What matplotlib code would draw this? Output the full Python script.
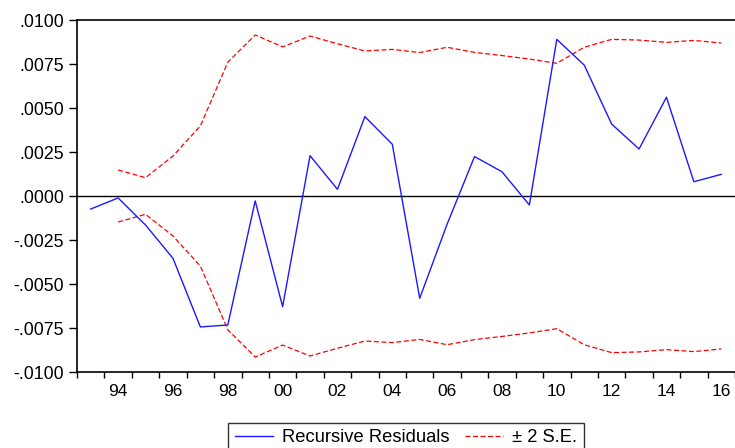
import matplotlib
matplotlib.use("Agg")
import matplotlib.pyplot as plt
from matplotlib.ticker import FixedLocator, FuncFormatter

years = list(range(1993, 2017))
resid = [-0.00074, -0.00011, -0.00165, -0.00354, -0.00744, -0.00733, -0.00028,
         -0.00629, 0.00229, 0.00038, 0.00451, 0.00294, -0.00581, -0.00160,
         0.00224, 0.00138, -0.00051, 0.00890, 0.00744, 0.00409, 0.00267,
         0.00561, 0.00081, 0.00123]
se_years = list(range(1994, 2017))
se_upper = [0.00148, 0.00104, 0.00227, 0.00398, 0.00760, 0.00915, 0.00847,
            0.00909, 0.00865, 0.00824, 0.00833, 0.00815, 0.00845, 0.00816,
            0.00798, 0.00778, 0.00754, 0.00845, 0.00890, 0.00886, 0.00873,
            0.00884, 0.00869]
se_lower = [-v for v in se_upper]
label_years = list(range(1994, 2017, 2))
tick_labels = [f"{y % 100:02d}" for y in label_years]
yticks = [-0.0100, -0.0075, -0.0050, -0.0025, 0.0, 0.0025, 0.0050, 0.0075, 0.0100]

plt.rcParams['font.family'] = ['Liberation Sans', 'DejaVu Sans']
fig = plt.figure(figsize=(7.35, 4.48), dpi=100)
ax = fig.add_axes([77/735, 1 - 372/448, 1 - 77/735, (372 - 20)/448])

ax.axhline(0, color='black', lw=1.0, zorder=1)
l1, = ax.plot(years, resid, color='#1a1aff', lw=1.0, label='Recursive Residuals', zorder=3)
l2, = ax.plot(se_years, se_upper, color='#ff0000', lw=0.9, dashes=(4, 2),
              label='± 2 S.E.', zorder=2)
ax.plot(se_years, se_lower, color='#ff0000', lw=0.9, dashes=(4, 2), zorder=2)

ax.set_xlim(1992.5, 2016.5)
ax.set_ylim(-0.0100, 0.0100)

# year boundary ticks (no labels), labels at even years
ax.xaxis.set_major_locator(FixedLocator([y + 0.5 for y in range(1992, 2017)]))
ax.xaxis.set_major_formatter(FuncFormatter(lambda v, p: ""))
ax.set_xticks(label_years, minor=True)
ax.set_xticklabels(tick_labels, minor=True)
ax.tick_params(axis='x', which='major', direction='out', length=4.5, width=1.0)
ax.tick_params(axis='x', which='minor', length=0, pad=8.5, labelsize=12.5)

ax.set_yticks(yticks)
def yfmt(v, p):
    if abs(v) < 1e-12:
        return ".0000"
    return f"{v:.4f}".replace("0.", ".", 1)
ax.yaxis.set_major_formatter(FuncFormatter(yfmt))
ax.tick_params(axis='y', direction='out', length=5.5, width=1.0, pad=4, labelsize=12.8)

for s in ['top', 'bottom', 'left']:
    ax.spines[s].set_linewidth(1.2)
    ax.spines[s].set_color('black')
ax.spines['right'].set_visible(False)

leg = fig.legend(handles=[l1, l2], loc='upper center',
                 bbox_to_anchor=((77 + 735) / 2 / 735, 1 - 423/448),
                 ncol=2, frameon=True, fancybox=False, fontsize=13.2,
                 handlelength=2.1, handletextpad=0.5, columnspacing=0.8,
                 borderpad=0.35, borderaxespad=0)
leg.get_frame().set_edgecolor('black')
leg.get_frame().set_linewidth(1.0)

fig.savefig("out.png", dpi=100)
